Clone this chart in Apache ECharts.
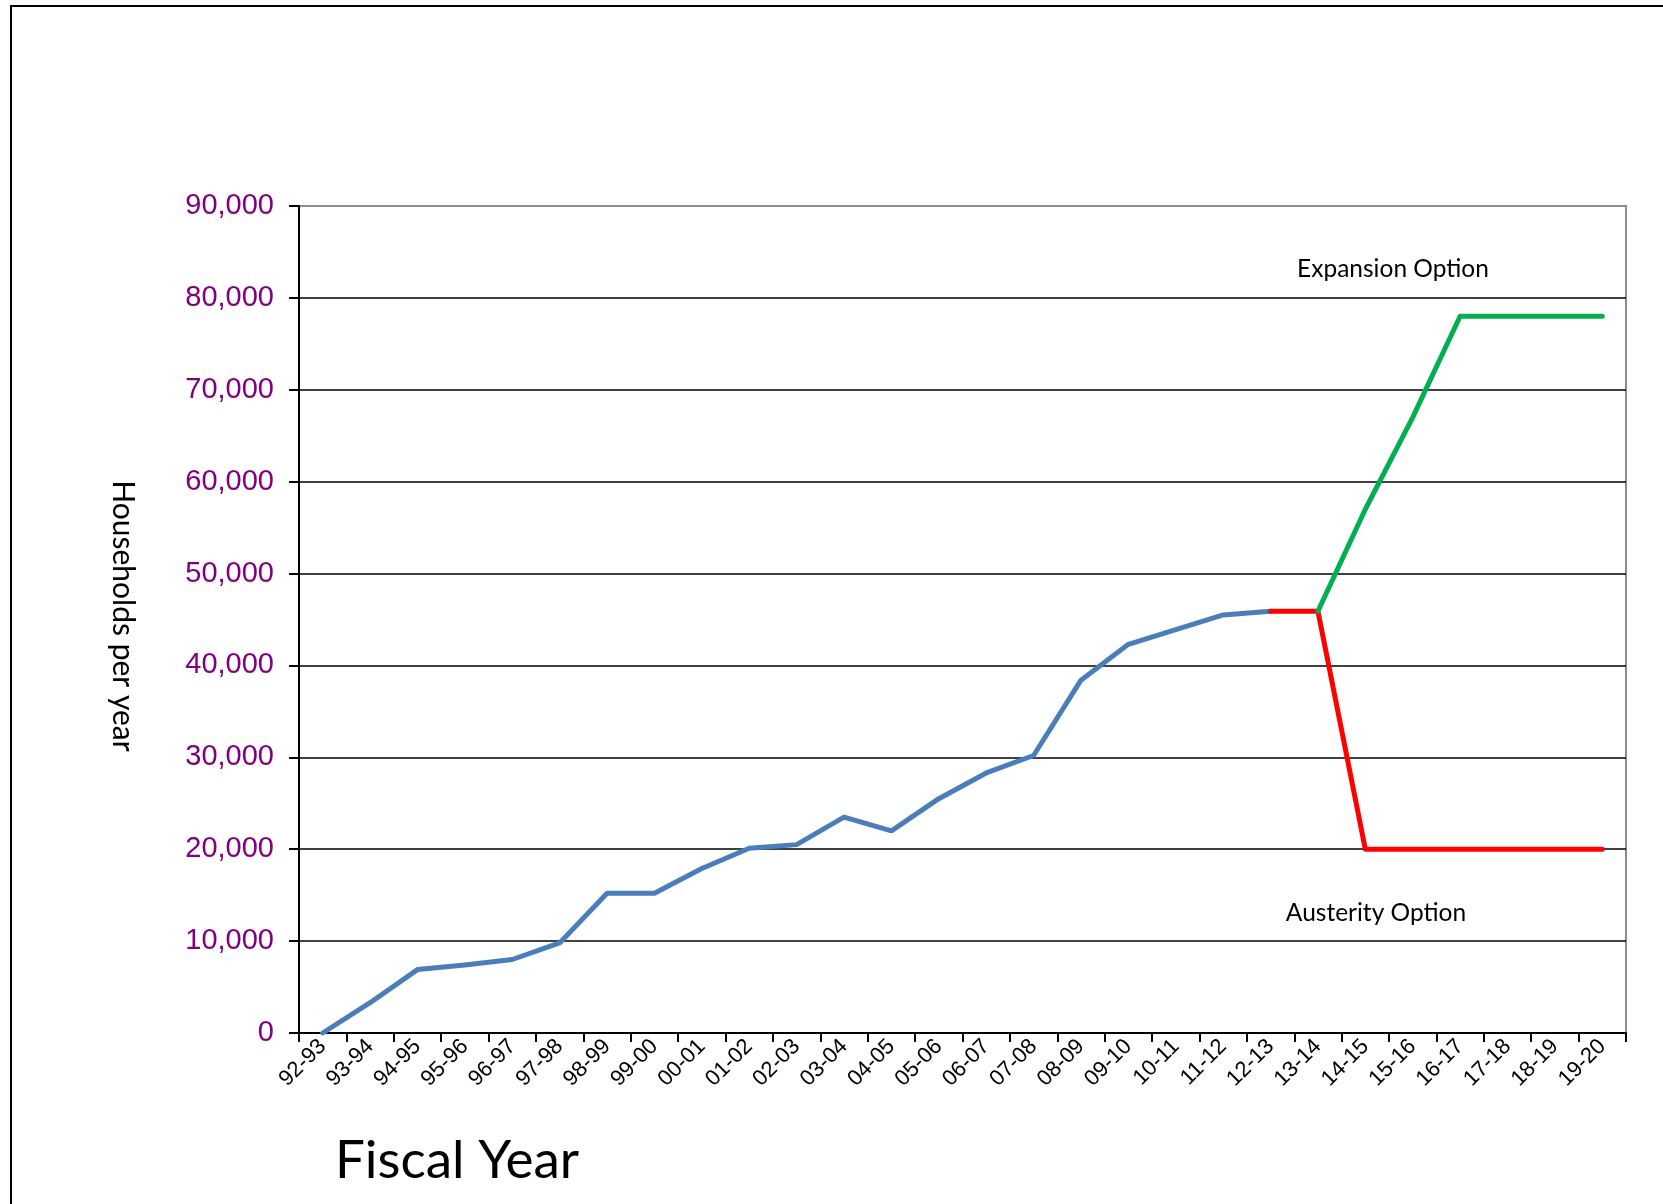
<!DOCTYPE html>
<html>
<head>
<meta charset="utf-8">
<style>
  html, body { margin: 0; padding: 0; background: #fff; }
  #chart { width: 1663px; height: 1204px; }
</style>
<script src="https://cdn.jsdelivr.net/npm/echarts@6/dist/echarts.min.js"></script>
</head>
<body>
<div id="chart"></div>
<script>
const categories = ['92-93','93-94','94-95','95-96','96-97','97-98','98-99','99-00','00-01','01-02','02-03','03-04','04-05','05-06','06-07','07-08','08-09','09-10','10-11','11-12','12-13','13-14','14-15','15-16','16-17','17-18','18-19','19-20'];
const actual = [0, 3300, 6900, 7400, 8000, 9800, 15200, 15200, 17900, 20100, 20500, 23500, 22000, 25500, 28300, 30200, 38400, 42300, 43900, 45500, 45900, null, null, null, null, null, null, null];
const austerity = [null, null, null, null, null, null, null, null, null, null, null, null, null, null, null, null, null, null, null, null, 45900, 45900, 20000, 20000, 20000, 20000, 20000, 20000];
const expansion = [null, null, null, null, null, null, null, null, null, null, null, null, null, null, null, null, null, null, null, null, null, 45900, 57000, 67000, 78000, 78000, 78000, 78000];
const yTicks = [0, 10000, 20000, 30000, 40000, 50000, 60000, 70000, 80000, 90000];
const yAxisName = 'Households per year';
const xAxisName = 'Fiscal Year';
const expansionLabel = 'Expansion Option';
const austerityLabel = 'Austerity Option';

const chart = echarts.init(document.getElementById('chart'));
const splitColors = yTicks.map((v, i) => i === yTicks.length - 1 ? '#8c8c8c' : '#000');

chart.setOption({
  animation: false,
  backgroundColor: '#fff',
  grid: { left: 299, top: 206, right: 37, bottom: 171, show: true, borderColor: '#8c8c8c', borderWidth: 2, backgroundColor: 'transparent' },
  xAxis: {
    type: 'category',
    data: categories,
    boundaryGap: true,
    axisLine: { show: true, lineStyle: { color: '#000', width: 2 } },
    axisTick: { show: true, length: 9, alignWithLabel: false, interval: 0, lineStyle: { color: '#000', width: 2 } },
    axisLabel: { interval: 0, rotate: 45, fontFamily: 'Liberation Sans', fontSize: 22, color: '#000', margin: 10 },
    splitLine: { show: false }
  },
  yAxis: {
    type: 'value',
    min: yTicks[0],
    max: yTicks[yTicks.length - 1],
    interval: 10000,
    axisLine: { show: true, lineStyle: { color: '#000', width: 2 } },
    axisTick: { show: true, length: 10, lineStyle: { color: '#000', width: 2 } },
    axisLabel: {
      fontFamily: 'Liberation Sans', fontSize: 29, color: '#800080', margin: 25,
      formatter: v => v.toLocaleString('en-US')
    },
    splitLine: { show: true, lineStyle: { color: splitColors, width: 1.6 } }
  },
  series: [
    { type: 'line', data: actual, symbol: 'none', connectNulls: false, lineStyle: { color: '#4a7ebb', width: 5, cap: 'round', join: 'round' }, z: 3 },
    { type: 'line', data: austerity, symbol: 'none', connectNulls: false, lineStyle: { color: '#ff0000', width: 5, cap: 'round', join: 'round' }, z: 4 },
    { type: 'line', data: expansion, symbol: 'none', connectNulls: false, lineStyle: { color: '#00b050', width: 5, cap: 'round', join: 'round' }, z: 4 }
  ],
  graphic: [
    { type: 'rect', shape: { x: 11, y: 6, width: 1720, height: 1320 }, style: { fill: 'none', stroke: '#000', lineWidth: 2 }, z: 0, silent: true },
    { type: 'text', x: 123, y: 616, rotation: -Math.PI / 2, style: { text: yAxisName, font: '30px Lato', fill: '#000', align: 'center', verticalAlign: 'middle' }, z: 10 },
    { type: 'text', x: 457, y: 1161, style: { text: xAxisName, font: '53px Lato', fill: '#000', align: 'center', verticalAlign: 'middle' }, z: 10 },
    { type: 'text', x: 1393, y: 269, style: { text: expansionLabel, font: '24.5px Lato', fill: '#000', align: 'center', verticalAlign: 'middle' }, z: 10 },
    { type: 'text', x: 1376, y: 913, style: { text: austerityLabel, font: '24.5px Lato', fill: '#000', align: 'center', verticalAlign: 'middle' }, z: 10 }
  ]
});
</script>
</body>
</html>
